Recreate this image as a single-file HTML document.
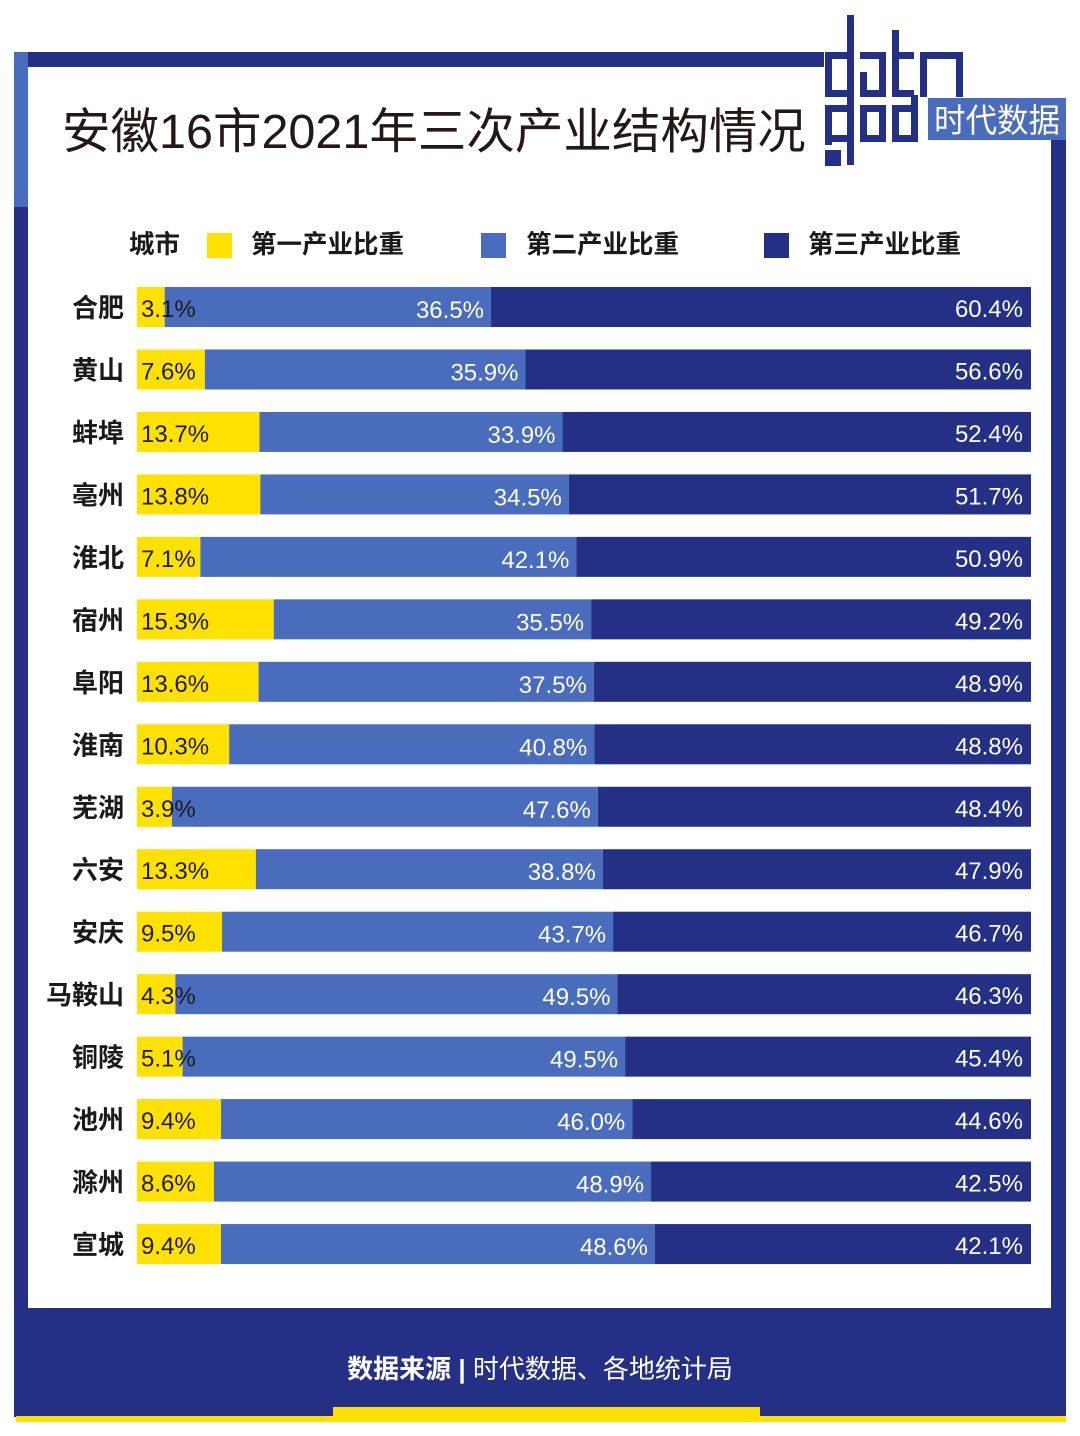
<!DOCTYPE html>
<html><head><meta charset="utf-8"><style>
body{margin:0;width:1080px;height:1436px;background:#fff;position:relative;overflow:hidden;font-family:"Liberation Sans","Noto Sans CJK SC",sans-serif}
.a{position:absolute}
.nv{background:#233085}
</style></head><body>
<div class="a nv" style="left:14px;top:52px;width:810px;height:15px"></div>
<div class="a" style="left:14px;top:52px;width:14px;height:155px;background:#4a6cbd"></div>
<div class="a nv" style="left:14px;top:207px;width:14px;height:1210px"></div>
<div class="a nv" style="left:1051px;top:140px;width:15px;height:1277px"></div>
<div class="a nv" style="left:14px;top:1308px;width:1052px;height:109px"></div>
<div class="a" style="left:16px;top:1416px;width:1050px;height:6px;background:#ffe100"></div>
<div class="a" style="left:333px;top:1407px;width:427px;height:10px;background:#ffe100"></div>
<div class="a" style="left:0;width:1080px;top:1351px;text-align:center;color:#fff;font-size:26px;line-height:36px"><b>数据来源</b> <span style="font-weight:bold">|</span> 时代数据、各地统计局</div>
<div class="a" style="left:62px;top:100px;font-size:48.5px;color:#231815;line-height:64px;white-space:nowrap">安徽16市2021年三次产业结构情况</div>
<svg class="a" style="left:820px;top:10px" width="250" height="165">
<g fill="#233085">
<rect x="27" y="5" width="7" height="150"/><rect x="5" y="95" width="7" height="40"/><rect x="5" y="42" width="29" height="7"/><rect x="5" y="42" width="7" height="45"/><rect x="5" y="80" width="29" height="7"/>
<rect x="40" y="42" width="26" height="7"/><rect x="59" y="42" width="7" height="45"/><rect x="40" y="62" width="7" height="25"/><rect x="40" y="80" width="26" height="7"/>
<rect x="72" y="20" width="7" height="67"/><rect x="72" y="42" width="22" height="7"/><rect x="72" y="80" width="22" height="7"/>
<rect x="100" y="42" width="7" height="45"/><rect x="100" y="42" width="28" height="7"/><rect x="121" y="42" width="22" height="7"/><rect x="136" y="42" width="7" height="45"/>
<rect x="5" y="95" width="28" height="7"/><rect x="5" y="125" width="28" height="7"/><rect x="5" y="140" width="16" height="16"/>
<rect x="40" y="95" width="26" height="7"/><rect x="40" y="95" width="7" height="37"/><rect x="59" y="95" width="7" height="37"/><rect x="40" y="125" width="26" height="7"/>
<rect x="72" y="95" width="26" height="7"/><rect x="72" y="95" width="7" height="37"/><rect x="91" y="85" width="7" height="47"/><rect x="72" y="125" width="26" height="7"/>
<rect x="108" y="88" width="138" height="42" fill="#4a6cbd"/>
</g>
<text x="177" y="122" text-anchor="middle" fill="#fff" font-size="33" font-family="Noto Sans CJK SC,sans-serif" textLength="126" lengthAdjust="spacingAndGlyphs">时代数据</text>
</svg>
<div class="a" style="left:0;top:228px;font-size:25.5px;font-weight:bold;color:#1a1a1a;line-height:34px">
<span class="a" style="left:129px;white-space:nowrap">城市</span>
<span class="a" style="left:207px;top:5px;width:25px;height:25px;background:#ffe100"></span>
<span class="a" style="left:251px;white-space:nowrap">第一产业比重</span>
<span class="a" style="left:481px;top:5px;width:25px;height:25px;background:#4a6cbd"></span>
<span class="a" style="left:526px;white-space:nowrap">第二产业比重</span>
<span class="a" style="left:764px;top:5px;width:25px;height:25px;background:#233085"></span>
<span class="a" style="left:808px;white-space:nowrap">第三产业比重</span>
</div>
<svg class="a" id="chart" style="left:0;top:0" width="1080" height="1436"></svg>
<script>
const cities=["合肥","黄山","蚌埠","亳州","淮北","宿州","阜阳","淮南","芜湖","六安","安庆","马鞍山","铜陵","池州","滁州","宣城"];
const primary=[3.1,7.6,13.7,13.8,7.1,15.3,13.6,10.3,3.9,13.3,9.5,4.3,5.1,9.4,8.6,9.4];
const secondary=[36.5,35.9,33.9,34.5,42.1,35.5,37.5,40.8,47.6,38.8,43.7,49.5,49.5,46.0,48.9,48.6];
const tertiary=[60.4,56.6,52.4,51.7,50.9,49.2,48.9,48.8,48.4,47.9,46.7,46.3,45.4,44.6,42.5,42.1];
const svg=document.getElementById('chart');
const NS='http://www.w3.org/2000/svg';
const X0=137,W=894,Y0=287,PITCH=62.47,H=40;
function yPos(i){return Y0+i*PITCH;}
function mk(tag,attrs){const e=document.createElementNS(NS,tag);for(const k in attrs)e.setAttribute(k,attrs[k]);svg.appendChild(e);return e;}
cities.forEach((c,i)=>{
  const tot=primary[i]+secondary[i]+tertiary[i];
  const xs=v=>v/tot*W;
  const y=yPos(i);
  const w1=xs(primary[i]),w2=xs(secondary[i]),w3=xs(tertiary[i]);
  const r1=mk('rect',{x:X0,y:y,width:w1,height:H,fill:'#ffe100'});
  
  
  const r2=mk('rect',{x:X0+w1,y:y,width:w2,height:H,fill:'#4a6cbd'});
  
  
  const r3=mk('rect',{x:X0+w1+w2,y:y,width:w3,height:H,fill:'#233085'});
  
  
  const st='font-family:"Liberation Sans","Noto Sans CJK SC",sans-serif;font-size:24px';
  const st2='font-family:"Liberation Sans","Noto Sans CJK SC",sans-serif;font-size:26px';
  const t0=mk('text',{x:124,y:y+30,'text-anchor':'end',fill:'#1a1a1a','font-weight':'bold',style:st2});t0.textContent=c;
  
  
  const t1=mk('text',{x:141,y:y+30,fill:'#1a1a1a',style:st});t1.textContent=primary[i].toFixed(1)+'%';
  
  
  const t2=mk('text',{x:X0+w1+w2-7,y:y+31,'text-anchor':'end',fill:'#fff',style:st});t2.textContent=secondary[i].toFixed(1)+'%';
  
  
  const t3=mk('text',{x:X0+W-8,y:y+30,'text-anchor':'end',fill:'#fff',style:st});t3.textContent=tertiary[i].toFixed(1)+'%';
  
  
});
</script>
</body></html>
